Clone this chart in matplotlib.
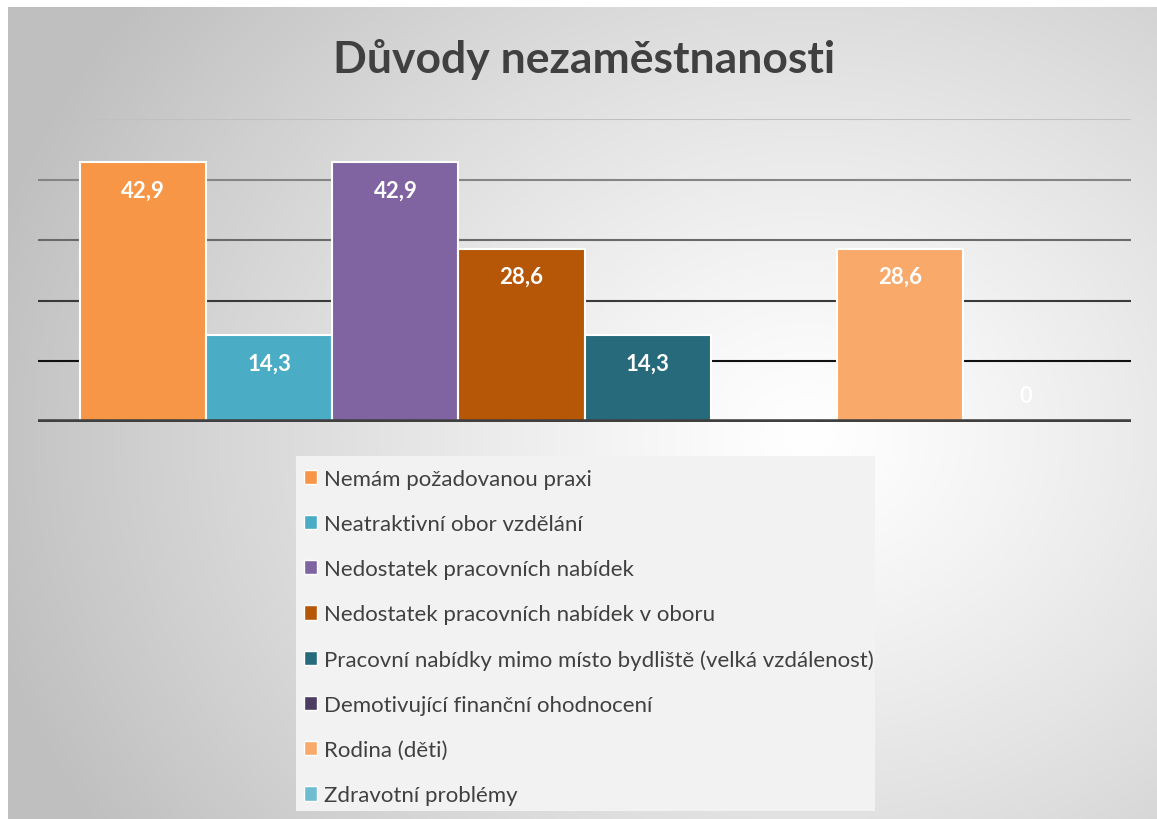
import numpy as np
import matplotlib
matplotlib.use("Agg")
import matplotlib.pyplot as plt
from matplotlib.patches import Patch, Rectangle

# data
categories = [
    "Nemám požadovanou praxi",
    "Neatraktivní obor vzdělání",
    "Nedostatek pracovních nabídek",
    "Nedostatek pracovních nabídek v oboru",
    "Pracovní nabídky mimo místo bydliště (velká vzdálenost)",
    "Demotivující finanční ohodnocení",
    "Rodina (děti)",
    "Zdravotní problémy",
]
values = [42.9, 14.3, 42.9, 28.6, 14.3, np.nan, 28.6, 0.0]
colors = ["#F79646", "#4BACC6", "#8064A2", "#B65708", "#276A7C", "#4D3B62", "#F9AA6B", "#6FBDD1"]
y_ticks = [10, 20, 30, 40, 50]
grid_colors = ["#111111", "#3a3a3a", "#6a6a6a", "#858585", "#c0c0c0"]

plt.rcParams["font.family"] = ["Lato", "DejaVu Sans"]

W, H = 1157, 820
fig = plt.figure(figsize=(W / 100, H / 100), dpi=100)
fig.patch.set_facecolor("white")

# radial gradient background
bg = fig.add_axes([8 / W, 0, 1 - 8 / W, (H - 8) / H])
bg.set_axis_off()
yy, xx = np.mgrid[0:812, 0:1149]
d = np.sqrt(((xx - 800) / 850.0) ** 2 + ((yy - 430) / 720.0) ** 2)
shade = 1.0 - 0.25 * np.clip(d, 0, 1) ** 1.2
bg.imshow(np.dstack([shade] * 3), aspect="auto", extent=[0, 1, 0, 1])
bg.set_xlim(0, 1)
bg.set_ylim(0, 1)

# main axes
ax = fig.add_axes([38 / W, (H - 423) / H, (1131 - 38) / W, (423 - 120) / H])
ax.patch.set_alpha(0)
x = np.arange(len(categories))
bars = ax.bar(x, values, width=1.0, color=colors, edgecolor="white", linewidth=1.5, zorder=3)
for yt, gc in zip(y_ticks, grid_colors):
    ax.axhline(yt, color=gc, linewidth=1.5, zorder=1)
ax.axhline(0, color="#404040", linewidth=4, zorder=4)
ax.set_xlim(-0.5 - 0.335, len(categories) - 0.5 + 0.335)
ax.set_ylim(0, 50)
for s in ax.spines.values():
    s.set_visible(False)
ax.set_xticks([])
ax.set_yticks([])

for xi, v in zip(x, values):
    if np.isnan(v):
        continue
    lbl = ("%.1f" % v).replace(".", ",") if v != 0 else "0"
    ypos = v - 4.6 if v > 5 else 4.3
    ax.text(xi, ypos, lbl, ha="center", va="center", color="white",
            fontsize=16, fontweight="bold", zorder=5)

fig.text(584 / W, 1 - 60 / H, "Důvody nezaměstnanosti", ha="center", va="center",
         fontsize=32, fontweight="bold", color="#404040")

# legend box
fig.patches.append(Rectangle((296 / W, 1 - 812 / H), (875 - 296) / W, (812 - 457) / H,
                             transform=fig.transFigure, facecolor="#f2f2f2", edgecolor="none",
                             zorder=1))
handles = [Patch(facecolor=c, edgecolor="white", linewidth=1) for c in colors]
leg = fig.legend(handles, categories, loc="upper left", bbox_to_anchor=(304 / W, 1 - 470 / H),
                 frameon=False, fontsize=16, labelspacing=1.13, handlelength=0.6, handleheight=0.6,
                 handletextpad=0.3, borderpad=0, borderaxespad=0, labelcolor="#404040")

fig.savefig("out.png", dpi=100)
